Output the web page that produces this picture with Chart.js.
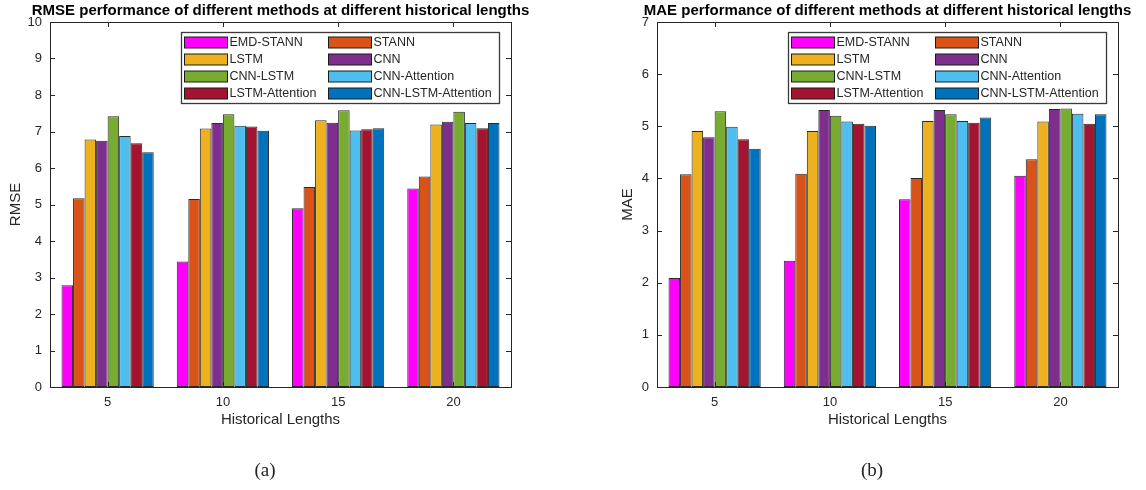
<!DOCTYPE html>
<html lang="en">
<head>
    <meta charset="UTF-8">
    <title>RMSE / MAE performance at different historical lengths</title>
    <script src="https://cdn.jsdelivr.net/npm/chart.js"></script>
    <style>
        body {
            margin: 0;
            background-color: white;
            width: 1146px;
            height: 490px;
            overflow: hidden;
            position: relative;
        }
        .panel {
            position: absolute;
            top: 0;
            height: 490px;
        }
        #left { left: 0; width: 573px; }
        #right { left: 607px; width: 539px; }
        .caption {
            position: absolute;
            top: 459px;
            width: 100px;
            text-align: center;
            font-family: "Liberation Serif", "DejaVu Serif", serif;
            font-size: 19px;
            line-height: 22px;
            color: #222;
        }
    </style>
</head>
<body>
    <div class="panel" id="left"><canvas id="rmseChart"></canvas></div>
    <div class="panel" id="right"><canvas id="maeChart"></canvas></div>
    <div class="caption" style="left: 215px;">(a)</div>
    <div class="caption" style="left: 822px;">(b)</div>

    <script>
        const lengths = ['5', '10', '15', '20'];
        const methods = ['EMD-STANN', 'STANN', 'LSTM', 'CNN', 'CNN-LSTM', 'CNN-Attention', 'LSTM-Attention', 'CNN-LSTM-Attention'];
        const colors = ['#FF00FF', '#D95319', '#EDB120', '#7E2F8E', '#77AC30', '#4DBEEE', '#A2142F', '#0072BD'];

        // RMSE, one array per method (lengths 5, 10, 15, 20)
        const rmseEmdStann = [2.79, 3.44, 4.90, 5.44];
        const rmseStann = [5.17, 5.15, 5.48, 5.77];
        const rmseLstm = [6.78, 7.08, 7.31, 7.19];
        const rmseCnn = [6.75, 7.23, 7.24, 7.27];
        const rmseCnnLstm = [7.42, 7.47, 7.58, 7.54];
        const rmseCnnAtt = [6.88, 7.16, 7.03, 7.23];
        const rmseLstmAtt = [6.68, 7.14, 7.06, 7.09];
        const rmseCnnLstmAtt = [6.43, 7.02, 7.09, 7.23];

        // MAE
        const maeEmdStann = [2.09, 2.42, 3.60, 4.05];
        const maeStann = [4.08, 4.09, 4.01, 4.37];
        const maeLstm = [4.91, 4.91, 5.10, 5.09];
        const maeCnn = [4.79, 5.31, 5.31, 5.33];
        const maeCnnLstm = [5.29, 5.20, 5.23, 5.34];
        const maeCnnAtt = [4.99, 5.09, 5.10, 5.24];
        const maeLstmAtt = [4.75, 5.05, 5.07, 5.05];
        const maeCnnLstmAtt = [4.57, 5.01, 5.17, 5.23];

        const rmseMax = 10;
        const maeMax = 7;

        const rmseSeries = [rmseEmdStann, rmseStann, rmseLstm, rmseCnn, rmseCnnLstm, rmseCnnAtt, rmseLstmAtt, rmseCnnLstmAtt];
        const maeSeries = [maeEmdStann, maeStann, maeLstm, maeCnn, maeCnnLstm, maeCnnAtt, maeLstmAtt, maeCnnLstmAtt];

        const axisColor = '#262626';
        const fontFamily = '"Liberation Sans", Arial, sans-serif';

        // matlab style box, inward ticks, legend inside the axes and title
        const matlabAxes = {
            id: 'matlabAxes',
            afterDatasetsDraw(chart, args, opts) {
                const { ctx, chartArea: a, scales: { x, y } } = chart;
                ctx.save();

                ctx.strokeStyle = axisColor;
                ctx.lineWidth = 1;
                ctx.beginPath();
                y.ticks.forEach(t => {
                    const py = Math.round(y.getPixelForValue(t.value)) + 0.5;
                    ctx.moveTo(a.left, py); ctx.lineTo(a.left + 5, py);
                    ctx.moveTo(a.right, py); ctx.lineTo(a.right - 5, py);
                });
                x.ticks.forEach((t, i) => {
                    const px = Math.round(x.getPixelForTick(i)) + 0.5;
                    ctx.moveTo(px, a.bottom); ctx.lineTo(px, a.bottom - 5);
                    ctx.moveTo(px, a.top); ctx.lineTo(px, a.top + 5);
                });
                ctx.stroke();
                ctx.strokeRect(Math.round(a.left) + 0.5, Math.round(a.top) + 0.5,
                    Math.round(a.right - a.left), Math.round(a.bottom - a.top));

                // legend
                const bw = 318, bh = 71;
                const bx = Math.round(a.right - 12 - bw) + 0.5;
                const by = Math.round(a.top + 10) + 0.5;
                ctx.fillStyle = 'white';
                ctx.fillRect(bx, by, bw, bh);
                ctx.strokeStyle = '#3a3a3a';
                ctx.lineWidth = 1.3;
                ctx.strokeRect(bx, by, bw, bh);
                ctx.font = '12.5px ' + fontFamily;
                ctx.textBaseline = 'middle';
                ctx.textAlign = 'left';
                chart.data.datasets.forEach((ds, i) => {
                    const col = i % 2, row = Math.floor(i / 2);
                    const sx = bx + 3 + col * 144;
                    const cy = by + 10 + row * 17;
                    ctx.fillStyle = ds.backgroundColor;
                    ctx.fillRect(sx, cy - 5.5, 43, 11);
                    ctx.strokeStyle = '#1a1a1a';
                    ctx.lineWidth = 1;
                    ctx.strokeRect(sx, cy - 5.5, 43, 11);
                    ctx.fillStyle = axisColor;
                    ctx.fillText(ds.label, sx + 45, cy + 0.5);
                });

                // title
                ctx.fillStyle = '#000';
                ctx.font = 'bold 15px ' + fontFamily;
                ctx.textAlign = 'center';
                ctx.fillText(opts.title, (a.left + a.right) / 2, 11);
                ctx.restore();
            }
        };

        function makeChart(id, series, max, yTitle, title, rightPad, yTitlePad) {
            new Chart(document.getElementById(id), {
                type: 'bar',
                data: {
                    labels: lengths,
                    datasets: series.map((vals, i) => ({
                        label: methods[i],
                        data: vals,
                        backgroundColor: colors[i],
                        borderColor: '#2a2a2a',
                        borderWidth: 1,
                        borderSkipped: false,
                        categoryPercentage: 0.8,
                        barPercentage: 1.0
                    }))
                },
                options: {
                    responsive: true,
                    maintainAspectRatio: false,
                    animation: false,
                    layout: { padding: { left: 0, right: rightPad, top: 22, bottom: 0 } },
                    plugins: {
                        legend: { display: false },
                        tooltip: { enabled: false },
                        matlabAxes: { title: title }
                    },
                    scales: {
                        x: {
                            grid: { display: false },
                            border: { display: false },
                            ticks: { color: axisColor, font: { family: fontFamily, size: 13 }, padding: 0 },
                            title: {
                                display: true,
                                text: 'Historical Lengths',
                                color: axisColor,
                                font: { family: fontFamily, size: 15 },
                                padding: { top: 0, bottom: 61 }
                            },
                            afterFit(scale) { scale.height = 103; }
                        },
                        y: {
                            min: 0,
                            max: max,
                            grid: { display: false },
                            border: { display: false },
                            ticks: { stepSize: 1, color: axisColor, font: { family: fontFamily, size: 13 }, padding: 0 },
                            title: {
                                display: true,
                                text: yTitle,
                                color: axisColor,
                                font: { family: fontFamily, size: 15 },
                                padding: { top: yTitlePad, bottom: 0 }
                            },
                            afterFit(scale) { scale.width = 50; }
                        }
                    }
                },
                plugins: [matlabAxes]
            });
        }

        makeChart('rmseChart', rmseSeries, rmseMax, 'RMSE',
            'RMSE performance of different methods at different historical lengths', 62, 7);
        makeChart('maeChart', maeSeries, maeMax, 'MAE',
            'MAE performance of different methods at different historical lengths', 28, 12);
    </script>
</body>
</html>
